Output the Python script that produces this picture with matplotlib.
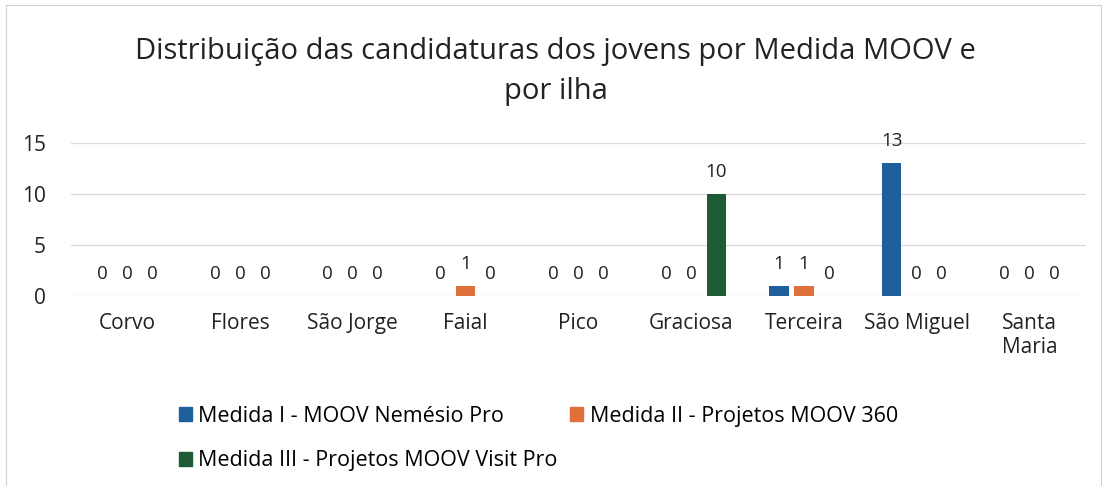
import matplotlib
matplotlib.use("Agg")
import matplotlib.pyplot as plt
import matplotlib.patches as patches
import numpy as np

plt.rcParams["font.family"] = ["Open Sans", "DejaVu Sans"]

islands = ["Corvo", "Flores", "São Jorge", "Faial", "Pico", "Graciosa",
           "Terceira", "São Miguel", "Santa\nMaria"]
series_names = ["Medida I - MOOV Nemésio Pro",
                "Medida II - Projetos MOOV 360",
                "Medida III - Projetos MOOV Visit Pro"]
medida1 = [0, 0, 0, 0, 0, 0, 1, 13, 0]
medida2 = [0, 0, 0, 1, 0, 0, 1, 0, 0]
medida3 = [0, 0, 0, 0, 0, 10, 0, 0, 0]
colors = ["#1f5f9c", "#e0703a", "#1e5a34"]

fig = plt.figure(figsize=(11.07, 4.86), dpi=100)
ax = fig.add_axes([0.064, 0.391, 0.917, 0.315])

x = np.arange(len(islands))
width = 0.17
step = 0.222
for i, vals in enumerate([medida1, medida2, medida3]):
    pos = x + (i - 1) * step
    ax.bar(pos, vals, width, color=colors[i], label=series_names[i], zorder=3)
    for px, v in zip(pos, vals):
        ax.annotate(str(v), (px, v), xytext=(0, 9.5), textcoords="offset points",
                    ha="center", va="bottom", fontsize=13.5, color="#222222")

ax.set_xlim(-0.5, len(islands) - 0.5)
ax.set_ylim(0, 15)
ax.set_yticks([0, 5, 10, 15])
ax.set_xticks(x)
ax.set_xticklabels(islands, fontsize=15, color="#222222", va="top")
ax.tick_params(axis="x", length=0, pad=12)
ax.tick_params(axis="y", length=0, pad=18, labelsize=15, labelcolor="#222222")
ax.yaxis.grid(True, color="#d9d9d9", linewidth=0.9, zorder=0)
for s in ax.spines.values():
    s.set_visible(False)

fig.text(0.502, 0.852, "Distribuição das candidaturas dos jovens por Medida MOOV e\npor ilha",
         ha="center", va="center", fontsize=21, color="#222222", linespacing=1.5)

# legend fills column by column, so order I, III, II gives rows (I, II) and (III)
order = [0, 2, 1]
handles = [patches.Patch(color=colors[k]) for k in order]
fig.legend(handles, [series_names[k] for k in order], loc="upper left",
           bbox_to_anchor=(0.144, 0.205), ncol=2, frameon=False, fontsize=15.5,
           handlelength=0.6, handleheight=0.6, handletextpad=0.3,
           columnspacing=0.6, labelspacing=1.1)

fig.patches.append(patches.Rectangle((0.005, 0.0), 0.99, 0.99, transform=fig.transFigure,
                                     fill=False, edgecolor="#d0d0d0", linewidth=0.8))

fig.savefig("out.png", dpi=100, facecolor="white")
